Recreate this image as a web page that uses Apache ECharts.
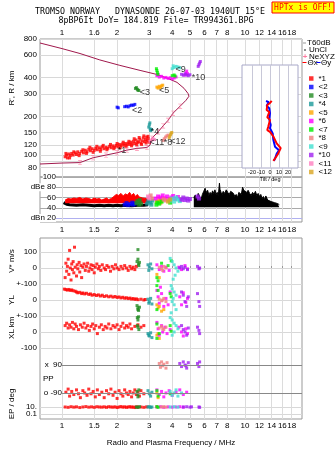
<!DOCTYPE html>
<html>
<head>
<meta charset="utf-8">
<script src="https://cdn.jsdelivr.net/npm/echarts@6/dist/echarts.min.js"></script>
<style>
html, body { margin: 0; padding: 0; background: #fff; }
#chart { width: 335px; height: 451px; }
</style>
</head>
<body>
<div id="chart"></div>
<script>
// ---- axes / ticks ----
var freqTicks = [1, 1.5, 2, 3, 4, 5, 6, 7, 8, 10, 12, 14, 16, 18];
var freqTopLabels = ['1', '1.6', '2', '3', '4', '5', '6', '7', '8', '10', '12', '14', '16', '18'];
var freqLabels = ['1', '1.5', '2', '3', '4', '5', '6', '7', '8', '10', '12', '14', '16', '18'];
var heightTicks = [80, 90, 100, 120, 150, 200, 300, 400, 600, 800];
var dbTicks = [20, 40, 60, 80, 100];
var dbLabels = ['dBn 20', '40', '60', 'dBe 80', '100'];
var tiltTicks = [-20, -10, 0, 10, 20];

var names = ['*1', '<2', '<3', '*4', '<5', '*6', '<7', '*8', '<9', '*10', '<11', '<12'];
var colors = ['#ff0000', '#0000ff', '#228b22', '#1a9a9a', '#ffa500', '#ff00ff', '#00ee00', '#f08080', '#40e0d0', '#a020f0', '#ff80c0', '#daa520'];

// ---- height panel: profile (MHz, km) ----
var profileF = [0.758, 1.0, 1.254, 1.477, 1.739, 1.998, 2.264, 2.568, 2.913, 3.03, 3.10, 3.35, 3.57, 3.80, 4.04, 4.42, 4.76, 4.94, 4.88, 4.64, 4.25, 3.79, 3.30, 2.67, 2.07, 1.61, 1.254, 1.0, 0.758];
var profileH = [85.2, 86.7, 87.4, 95.3, 100, 104.2, 109.3, 112.7, 114.5, 120, 135.4, 151.5, 168.7, 186.5, 211.6, 240, 267, 287, 302, 331, 368, 395, 424, 456, 499, 550, 617, 674, 745];
var neF = [1.254, 1.477, 1.739, 1.998, 2.264, 2.568, 2.913, 3.10, 3.35, 3.57, 3.80, 4.04, 4.42];
var neH = [87.4, 95.3, 100, 104.2, 109.3, 112.7, 114.5, 135.4, 151.5, 168.7, 186.5, 211.6, 240];

// echo traces [MHz, km]
var ht1 = [[1.04,97],[1.06,100],[1.07,95],[1.09,102],[1.11,99],[1.13,103],[1.15,100],[1.18,104],[1.2,101],[1.22,106],[1.25,103],[1.28,107],[1.31,104],[1.34,109],[1.37,106],[1.4,111],[1.43,108],[1.46,112],[1.5,109],[1.53,113],[1.56,110],[1.6,114],[1.63,111],[1.66,116],[1.7,112],[1.74,115],[1.78,113],[1.82,117],[1.86,114],[1.9,118],[1.94,115],[1.98,119],[2.02,116],[2.06,121],[2.1,118],[2.14,122],[2.18,119],[2.22,123],[2.26,120],[2.3,124],[2.34,121],[2.38,126],[2.42,122],[2.46,128],[2.5,123],[2.54,131],[2.58,125],[2.62,127],[2.66,133],[2.7,124],[2.74,129],[2.78,136],[2.82,127],[2.86,132],[2.9,138],[2.93,129],[2.96,134],[2.99,126],
    [1.05,103],[1.1,95],[1.16,106],[1.24,99],[1.3,110],[1.36,103],[1.42,115],[1.48,105],[1.55,117],[1.62,107],[1.68,119],[1.76,110],[1.84,121],[1.92,112],[2.0,123],[2.08,114],[2.16,126],[2.24,116],[2.32,128],[2.4,118],[2.48,134],[2.56,120],[2.64,137],[2.72,121],[2.8,141],[2.88,124],[2.95,140]];
var ht2 = [[2.0,236],[2.03,233],[2.2,238],[2.25,240],[2.3,237],[2.35,242],[2.4,245],[2.45,244],[2.5,248]];
var ht3 = [[2.52,330],[2.55,335],[2.58,325],[2.6,320],[2.63,318]];
var ht4 = [[2.98,165],[3.0,172],[3.02,178],[3.03,160],[3.05,155],[3.08,158]];
var ht5 = [[3.3,338],[3.35,332],[3.4,343],[3.45,335],[3.5,345],[3.55,350]];
var ht6 = [[3.3,415],[3.35,425],[3.4,405],[3.5,410],[3.6,398],[3.7,402],[3.8,395],[3.9,400],[4.0,392],[4.1,398],[4.2,405],[4.7,420],[4.75,435],[4.8,450],[4.85,430]];
var ht7 = [[3.28,470],[3.3,455],[3.32,440],[3.34,425],[4.0,415],[4.1,420],[4.15,412]];
var ht8 = [[3.57,130],[3.62,134],[3.68,138],[3.74,141],[3.8,143]];
var ht9 = [[4.0,470],[4.05,495],[4.1,480],[4.2,490],[4.3,485],[4.4,478]];
var ht10 = [[4.5,425],[4.6,418],[4.7,428],[4.8,420],[4.9,415],[5.0,422],[5.55,490],[5.6,505],[5.65,520],[5.7,535]];
var ht11 = [[3.02,128],[3.08,131],[3.14,135],[3.2,132]];
var ht12 = [[3.85,136],[3.88,140],[3.92,144],[3.95,148],[3.98,150]];

var tagNames = ['*1', '<2', '<3', '*4', '<5', '*10', '<11', '*8', '<12', '<9'];
var tagF = [2.13, 2.57, 2.84, 3.22, 3.61, 5.57, 3.3, 3.79, 4.3, 4.45];
var tagH = [109, 223, 308, 153, 319, 405, 126, 126, 128, 465];

// tilt inset (deg, km)
var tiltX = [1.9, 0, -3, -3.7, -0.8, -3, 0, -1.9, -3, 0, 3.7, 7.4, 11.9, 9.2, 5.6, 3.7];
var tiltXH = [263, 253, 244, 223, 215, 196, 187, 166, 156, 151, 139, 123, 113, 103, 94, 90];
var tiltY = [-4.4, -1.4, -3.7, -0.8, 0, 1.9, -0.8, 0.8, 0, 3, 3.7, 5.6, 10, 7.4, 5.6, 4.4];
var tiltYH = [262, 257, 240, 230, 211, 204, 189, 171, 161, 147, 131, 116, 109, 102, 94, 90];

// ---- amplitude panel (dB) ----
var dbRedF = [1.04,1.08,1.12,1.16,1.2,1.25,1.3,1.35,1.4,1.45,1.5,1.55,1.6,1.65,1.7,1.75,1.8,1.86,1.92,1.98,2.04,2.1,2.16,2.22,2.28,2.34,2.4,2.46,2.52,2.58,2.64,2.7,2.76,2.82,2.88,2.94,3.0];
var dbRedTop = [55,58,57,59,58,60,57,59,58,56,59,57,58,55,57,59,56,58,62,66,64,68,63,67,65,70,64,68,62,66,61,64,59,62,58,57,55];
var dbLow = [[1.02,50],[1.06,47],[1.1,46],[1.2,45],[1.3,46],[1.4,45],[1.5,44],[1.6,45],[1.7,44],[1.8,45],[1.9,44],[2.0,45],[2.1,44],[2.2,45],[2.4,44],[2.6,45],[2.8,45],[2.95,46]];
var dbBlack = [[5.25,60],[5.35,65],[5.45,58],[5.55,68],[5.65,62],[5.75,56],[5.85,66],[5.95,72],[6.05,78],[6.15,70],[6.25,74],[6.35,64],[6.45,70],[6.55,66],[6.65,73],[6.75,68],[6.85,75],[6.95,66],[7.05,70],[7.15,64],[7.25,88],[7.3,76],[7.4,70],[7.5,66],[7.6,72],[7.75,68],[7.9,75],[8.05,70],[8.2,66],[8.35,72],[8.5,75],[8.65,68],[8.8,62],[8.95,66],[9.1,60],[9.25,70],[9.4,72],[9.55,66],[9.7,80],[9.85,74],[10.0,76],[10.2,70],[10.4,74],[10.6,68],[10.8,64],[11.0,70],[11.2,66],[11.4,72],[11.6,64],[11.8,68],[12.0,62],[12.2,66],[12.4,58],[12.6,62],[12.8,56],[13.0,63],[13.3,55],[13.6,58],[13.9,52],[14.2,55],[14.5,50],[14.8,52],[15.1,48],[15.4,46]];
var db2 = [[2.2,46],[2.25,49],[2.3,45],[2.35,47],[2.42,50],[2.45,46],[2.5,48]];
var db3 = [[2.55,49],[2.58,53],[2.62,51],[2.66,55],[2.7,48],[2.64,46]];
var db4 = [[2.92,48],[2.96,53],[3.0,57],[3.04,50],[3.08,46],[3.12,54]];
var db5 = [[3.3,52],[3.4,56],[3.5,54],[3.6,58],[3.45,50]];
var db6 = [[3.25,58],[3.35,62],[3.45,60],[3.55,64],[3.65,58],[3.75,62],[3.85,56],[3.95,60],[4.05,63],[4.15,57],[4.3,61],[4.45,55]];
var db7 = [[3.28,46],[3.32,50],[3.4,48],[3.5,52],[3.9,50]];
var db8 = [[3.0,60],[3.05,64],[3.1,58],[3.6,56],[3.7,54]];
var db9 = [[3.9,54],[4.0,58],[4.1,52],[4.2,60],[4.3,56],[4.4,53]];
var db10 = [[4.5,56],[4.6,60],[4.7,55],[4.8,58],[4.9,54],[5.0,57],[5.5,62],[5.6,58]];
var db11 = [[2.95,62],[3.0,58]];
var db12 = [[3.8,52],[3.9,56]];

// ---- velocities (m/s) ----
var vs1 = [[1.04,-60],[1.05,30],[1.06,-20],[1.07,10],[1.08,55],[1.09,-40],[1.1,110],[1.11,0],[1.12,-75],[1.13,25],[1.14,-10],[1.15,40],[1.16,-30],[1.17,130],[1.18,5],[1.2,-50],[1.21,20],[1.22,-5],[1.24,35],[1.25,-25],[1.27,15],[1.28,-60],[1.3,5],[1.32,25],[1.34,-15],[1.36,10],[1.38,30],[1.4,-20],[1.42,0],[1.44,20],[1.46,-10],[1.48,15],[1.5,-30],[1.52,5],[1.55,25],[1.58,-5],[1.6,10],[1.63,-15],[1.66,20],[1.7,0],[1.73,-10],[1.76,15],[1.8,5],[1.84,-20],[1.88,10],[1.92,-5],[1.96,20],[2.0,0],[2.05,-10],[2.1,10],[2.15,-5],[2.2,15],[2.25,0],[2.3,-15],[2.35,10],[2.4,-5],[2.45,5],[2.5,-10],[2.55,10]];
var yl1 = [[1.03,68],[1.05,65],[1.07,62],[1.09,66],[1.11,60],[1.13,63],[1.15,58],[1.18,55],[1.2,50],[1.22,45],[1.25,48],[1.28,40],[1.3,44],[1.33,38],[1.36,42],[1.4,35],[1.43,38],[1.46,30],[1.5,34],[1.54,28],[1.58,32],[1.62,25],[1.66,30],[1.7,22],[1.75,26],[1.8,20],[1.85,24],[1.9,18],[1.95,22],[2.0,16],[2.05,19],[2.1,13],[2.15,17],[2.2,11],[2.25,14],[2.3,9],[2.35,12],[2.4,6],[2.45,9],[2.5,4],[2.55,7],[2.6,2],[2.7,5],[2.8,0],[2.85,3]];
var xl1 = [[1.04,40],[1.06,55],[1.08,25],[1.1,45],[1.12,30],[1.14,60],[1.16,20],[1.18,50],[1.2,35],[1.23,15],[1.26,45],[1.29,30],[1.32,55],[1.35,25],[1.38,40],[1.41,10],[1.44,35],[1.47,50],[1.5,20],[1.53,40],[1.56,-10],[1.6,30],[1.64,45],[1.68,15],[1.72,35],[1.76,25],[1.8,50],[1.85,20],[1.9,40],[1.95,30],[2.0,45],[2.05,15],[2.1,35],[2.15,55],[2.2,25],[2.25,40],[2.3,30],[2.35,50],[2.4,20],[2.5,35],[2.6,45],[2.7,30],[2.8,40]];
var vs3 = [[2.57,40],[2.6,55],[2.62,25],[2.65,35],[2.6,115],[2.63,15]];
var yl3 = [[2.57,-35],[2.6,-50],[2.62,-65],[2.65,-45],[2.6,-60]];
var xl3 = [[2.58,90],[2.6,75],[2.62,95],[2.6,30],[2.63,15],[2.58,40]];
var vs4 = [[2.95,20],[3.0,5],[3.05,25],[3.1,-5],[2.98,-15]];
var yl4 = [[2.95,5],[3.0,-10],[3.05,10],[3.1,-25],[2.98,-20]];
var xl4 = [[2.95,-10],[3.0,-25],[3.05,-5],[3.1,-35],[2.98,-20]];
var vs5 = [[3.3,-40],[3.4,-60]];
var yl5 = [[3.3,-30],[3.35,-50],[3.4,-40],[3.5,-70],[3.6,-60]];
var xl5 = [[3.3,-20],[3.4,-40],[3.35,-10]];
var vs6 = [[3.3,20],[3.4,-10],[3.5,10],[3.6,-20],[3.7,5],[3.85,-15],[4.35,5],[4.5,-10],[4.7,15],[4.85,-5]];
var yl6 = [[3.3,60],[3.35,20],[3.4,-20],[3.5,40],[3.6,-40],[3.7,10],[3.8,-30],[3.9,50],[4.4,20],[4.5,-30],[4.6,45],[4.75,-15],[4.85,10],[3.45,80]];
var xl6 = [[3.3,60],[3.35,20],[3.4,-20],[3.5,40],[3.55,0],[3.65,30],[3.75,-10],[3.9,15],[4.35,30],[4.5,0],[4.6,-25],[4.75,20],[4.85,-10]];
var vs7 = [[3.3,-60],[3.35,-80],[3.5,30],[3.8,15],[3.95,45]];
var yl7 = [[3.3,90],[3.35,60],[3.9,40],[3.95,20],[3.3,-60]];
var xl7 = [[3.3,50],[3.4,-10],[3.9,40],[3.95,5],[3.3,-40]];
var vs8 = [[3.4,5],[3.5,-5],[3.6,10],[3.7,0],[3.55,-15]];
var yl8 = [[3.4,5],[3.5,-5],[3.6,10],[3.7,-10],[3.55,0]];
var xl8 = [[3.4,25],[3.5,35],[3.6,15],[3.7,30],[3.55,20]];
var vs9 = [[3.9,60],[4.0,40],[4.1,20],[4.2,0],[4.3,-20],[4.15,-45],[4.05,-70]];
var yl9 = [[3.95,90],[4.0,70],[4.1,50],[4.2,30],[4.05,10],[4.0,-10],[4.1,-30],[4.2,-60],[3.95,-80]];
var xl9 = [[3.9,90],[4.0,75],[4.1,55],[4.2,40],[4.3,20],[4.1,0],[4.0,-20]];
var vs10 = [[4.4,0],[4.5,10],[4.6,-5],[4.7,5],[4.85,-10],[5.5,10],[5.6,-5],[5.65,0]];
var yl10 = [[4.5,50],[4.6,30],[4.7,-10],[4.8,-40],[4.9,20],[5.5,40],[5.6,-10],[5.65,-40]];
var xl10 = [[4.5,40],[4.6,15],[4.7,0],[4.8,-20],[4.9,25],[5.5,30],[5.6,10],[5.65,-10]];

// ---- polarization (deg) ----
var pp1 = [[1.05,-85],[1.08,-65],[1.1,-110],[1.13,-80],[1.16,-100],[1.2,-70],[1.23,-95],[1.26,-120],[1.3,-75],[1.33,-90],[1.37,-105],[1.4,-65],[1.44,-95],[1.48,-80],[1.52,-115],[1.56,-70],[1.6,-100],[1.65,-85],[1.7,-120],[1.75,-75],[1.8,-95],[1.85,-65],[1.9,-105],[1.95,-85],[2.0,-125],[2.05,-75],[2.1,-95],[2.15,-110],[2.2,-70],[2.25,-90],[2.3,-100],[2.35,-80],[2.4,-115],[2.45,-90],[2.5,-70],[2.55,-100],[2.6,-85],[2.65,-110],[2.7,-75],[2.8,-95]];
var pp3 = [[2.57,-80],[2.6,-100],[2.63,-70],[2.6,-115]];
var pp4 = [[2.95,-75],[3.0,-95],[3.05,-110],[3.1,-85]];
var pp5 = [[3.3,-90],[3.35,-120]];
var pp6 = [[3.3,-70],[3.4,-100],[3.5,-80],[3.6,-115],[3.7,-90],[3.85,-75],[4.0,-105],[4.2,-85],[4.4,-70],[4.6,-100],[4.8,-85]];
var pp7 = [[3.3,-75],[3.35,-110],[3.9,-95]];
var pp8 = [[3.4,100],[3.45,75],[3.5,110],[3.55,85],[3.6,95],[3.7,70],[3.75,105]];
var pp9 = [[3.9,-80],[4.0,-105],[4.1,-90],[4.2,-70],[4.3,-110],[4.5,-90]];
var pp10 = [[4.4,100],[4.5,80],[4.6,110],[4.7,90],[4.8,70],[4.9,105],[4.75,85],[5.5,100],[5.6,80],[5.65,110]];

// ---- elevation (deg) ----
var ep1 = [[1.04,10],[1.08,8],[1.12,12],[1.16,9],[1.2,11],[1.25,7],[1.3,10],[1.35,13],[1.4,9],[1.45,11],[1.5,8],[1.55,12],[1.6,10],[1.65,9],[1.7,11],[1.75,8],[1.8,12],[1.85,10],[1.9,9],[1.95,11],[2.0,7],[2.05,10],[2.1,13],[2.15,9],[2.2,11],[2.25,8],[2.3,10],[2.35,12],[2.4,9],[2.45,10],[2.5,7],[2.55,11],[2.6,9],[2.7,10],[2.8,8],[2.9,11]];
var ep3 = [[2.55,10],[2.6,8],[2.65,12]];
var ep4 = [[2.95,10],[3.0,12],[3.05,8],[3.1,10]];
var ep5 = [[3.3,11]];
var ep6 = [[3.3,10],[3.45,12],[3.6,8],[3.8,11],[4.0,9],[4.2,10],[4.4,12],[4.6,9]];
var ep7 = [[3.3,13],[3.35,8]];
var ep8 = [[3.5,10],[3.6,12],[3.7,9]];
var ep9 = [[3.9,10],[4.1,12],[4.3,9]];
var ep10 = [[4.6,10],[4.8,12],[5.0,9],[5.1,11],[5.6,10],[5.65,8]];

var FMIN = 0.758, FMAX = 20.49;
var LBL = { fontFamily: 'Liberation Sans', fontSize: 8, color: '#000', hideOverlap: false, showMinLabel: true, showMaxLabel: true };

var lookup = function(ticks, labels) {
    return function(v) {
        for (var i = 0; i < ticks.length; i++) {
            if (Math.abs(v - ticks[i]) < 1e-6 * Math.max(1, Math.abs(ticks[i]))) return labels[i];
        }
        return '';
    };
};
var zip = function(a, b) { return a.map(function(v, i) { return [v, b[i]]; }); };

var grid = [
    { left: 40, top: 39, width: 262, height: 138, show: true, borderColor: '#999' },   // 0 height
    { left: 40, top: 177, width: 262, height: 45, show: true, borderColor: '#999' },   // 1 dBe
    { left: 40, top: 238, width: 262, height: 181, show: true, borderColor: '#999' },  // 2 frame
    { left: 40, top: 238, width: 262, height: 46 },                                    // 3 V*
    { left: 40, top: 284, width: 262, height: 32 },                                    // 4 YL
    { left: 40, top: 316, width: 262, height: 40 },                                    // 5 XL
    { left: 40, top: 356, width: 262, height: 46 },                                    // 6 PP
    { left: 40, top: 402, width: 262, height: 17 },                                    // 7 EP
    { left: 242, top: 65, width: 56, height: 103, show: true, borderColor: '#a8a8c8', backgroundColor: '#fff', z: 10 } // 8 tilt
];

var fx = function(gi, extra) {
    var ax = {
        type: 'log', logBase: 10, gridIndex: gi, min: FMIN, max: FMAX,
        axisLine: { show: false },
        axisTick: { show: false, customValues: freqTicks },
        axisLabel: { show: false, customValues: freqTicks },
        splitLine: { show: true, lineStyle: { color: '#dcdcdc', width: 1 } }
    };
    return Object.assign(ax, extra || {});
};

var xAxis = [
    fx(0, { position: 'top', axisLabel: Object.assign({ show: true, customValues: freqTicks, margin: 2, formatter: lookup(freqTicks, freqTopLabels) }, LBL) }),
    fx(1),
    { gridIndex: 2, type: 'value', show: false },
    fx(3, { position: 'top',
        axisTick: { show: true, customValues: freqTicks, length: 2, lineStyle: { color: '#999' } },
        axisLabel: Object.assign({ show: true, customValues: freqTicks, margin: 4, formatter: lookup(freqTicks, freqLabels) }, LBL) }),
    fx(4),
    fx(5),
    fx(6),
    fx(7, { position: 'bottom',
        axisLabel: Object.assign({ show: true, customValues: freqTicks, margin: 3, formatter: lookup(freqTicks, freqLabels) }, LBL),
        name: 'Radio and Plasma Frequency / MHz', nameLocation: 'middle', nameGap: 20,
        nameTextStyle: { fontFamily: 'Liberation Sans', fontSize: 8, color: '#000' } }),
    { gridIndex: 8, type: 'value', min: -31.1, max: 31.1, z: 11,
      axisLine: { show: false },
      axisTick: { show: false, customValues: tiltTicks },
      axisLabel: { customValues: tiltTicks, margin: 1, fontSize: 5.5, fontFamily: 'Liberation Sans', color: '#000', hideOverlap: false },
      splitLine: { show: true, lineStyle: { color: '#c8c8d8' } },
      name: 'Tilt / deg', nameLocation: 'middle', nameGap: 8,
      nameTextStyle: { fontSize: 5.5, fontFamily: 'Liberation Sans', color: '#000' } }
];

var fy = function(gi, type, min, max, ticks, labels, extra) {
    var ax = {
        type: type, gridIndex: gi, min: min, max: max, position: 'left', offset: 0,
        axisLine: { show: false },
        axisTick: { show: false, customValues: ticks },
        axisLabel: Object.assign({ customValues: ticks, margin: 3, formatter: lookup(ticks, labels) }, LBL),
        splitLine: { show: true, lineStyle: { color: '#d8d8d8' } }
    };
    return Object.assign(ax, extra || {});
};

var yAxis = [
    fy(0, 'log', 67.5, 800.5, heightTicks, heightTicks.map(String)),
    fy(1, 'value', 12.2, 100, dbTicks, dbLabels, {
        axisLabel: Object.assign({ customValues: dbTicks, inside: true, align: 'right', margin: 16,
            backgroundColor: '#fff', formatter: lookup(dbTicks, dbLabels) }, LBL),
        splitLine: { show: true, lineStyle: { color: ['#b0b0f0', '#aaa', '#aaa', '#aaa', '#aaa'] } } }),
    { gridIndex: 2, type: 'value', show: false },
    fy(3, 'value', -100, 187.5, [0, 100], ['0', '100']),
    fy(4, 'value', -100, 100, [0, 100], ['0', '+-100']),
    fy(5, 'value', -150, 100, [-100, 0, 100], ['-100', '0', '+-100']),
    fy(6, 'value', -148, 148, [-90, 90], ['o -90', 'x  90'], {
        axisLabel: Object.assign({ customValues: [-90, 90], inside: true, align: 'right', margin: 22,
            formatter: lookup([-90, 90], ['o -90', 'x  90']) }, LBL),
        splitLine: { show: false } }),
    fy(7, 'log', 0.00373, 268, [10], ['10.']),
    { gridIndex: 8, type: 'log', min: 79.3, max: 498, show: false },
    // second EP axis carrying only the 0.1 tick (kept apart so the two close labels both show)
    fy(7, 'log', 0.00373, 268, [0.1], ['0.1'])
];

var series = [];
var addPts = function(sets, gi, size) {
    sets.forEach(function(d, i) {
        if (!d || !d.length) return;
        series.push({
            name: names[i], type: 'scatter', xAxisIndex: gi, yAxisIndex: gi,
            data: d, symbol: 'rect', symbolSize: size, silent: true,
            itemStyle: { color: colors[i] }, z: 3
        });
    });
};

addPts([ht1, ht2, ht3, ht4, ht5, ht6, ht7, ht8, ht9, ht10, ht11, ht12], 0, 3);

series.push({
    name: 'profile', type: 'line', xAxisIndex: 0, yAxisIndex: 0, data: zip(profileF, profileH),
    symbol: 'none', silent: true, lineStyle: { color: '#a0184c', width: 1 }, z: 2
});
series.push({
    name: 'NeXYZ', type: 'scatter', xAxisIndex: 0, yAxisIndex: 0, data: zip(neF, neH),
    symbol: 'path://M0,0L6,0L6,1L3.5,1L3.5,7L6,7L6,8L0,8L0,7L2.5,7L2.5,1L0,1Z', symbolSize: [4, 5],
    itemStyle: { color: '#ff7aa0' }, silent: true, z: 3
});
series.push({
    name: 'tags', type: 'scatter', xAxisIndex: 0, yAxisIndex: 0, silent: true, z: 6,
    data: tagNames.map(function(n, i) { return { name: n, value: [tagF[i], tagH[i]] }; }),
    symbolSize: 0.1, itemStyle: { color: 'rgba(0,0,0,0)' },
    label: { show: true, position: 'inside', formatter: '{b}', fontFamily: 'Liberation Sans', fontSize: 9, color: '#000' }
});

// tilt inset
series.push({
    name: 'Θy', type: 'line', xAxisIndex: 8, yAxisIndex: 8, data: zip(tiltY, tiltYH),
    symbol: 'none', silent: true, lineStyle: { color: '#0000ff', width: 2 }, z: 12
});
series.push({
    name: 'Θx', type: 'line', xAxisIndex: 8, yAxisIndex: 8, data: zip(tiltX, tiltXH),
    symbol: 'none', silent: true, lineStyle: { color: '#ff0000', width: 2 }, z: 13
});

// amplitude
series.push({
    name: '*1', type: 'line', xAxisIndex: 1, yAxisIndex: 1, data: zip(dbRedF, dbRedTop),
    symbol: 'none', silent: true, lineStyle: { color: '#ff0000', width: 1 },
    areaStyle: { color: '#ff0000', opacity: 1, origin: 49 }, z: 3
});
series.push({
    name: 'UnCl', type: 'line', xAxisIndex: 1, yAxisIndex: 1, data: dbLow,
    symbol: 'none', silent: true, lineStyle: { color: '#000', width: 3 }, z: 2
});
series.push({
    name: 'UnCl', type: 'line', xAxisIndex: 1, yAxisIndex: 1, data: dbBlack,
    symbol: 'none', silent: true, lineStyle: { color: '#000', width: 1 },
    areaStyle: { color: '#000', opacity: 1, origin: 41 }, z: 2
});
addPts([[], db2, db3, db4, db5, db6, db7, db8, db9, db10, db11, db12], 1, 4);

// velocities, polarization, elevation
addPts([vs1, [], vs3, vs4, vs5, vs6, vs7, vs8, vs9, vs10], 3, 3);
addPts([yl1, [], yl3, yl4, yl5, yl6, yl7, yl8, yl9, yl10], 4, 3);
addPts([xl1, [], xl3, xl4, xl5, xl6, xl7, xl8, xl9, xl10], 5, 3);
addPts([pp1, [], pp3, pp4, pp5, pp6, pp7, pp8, pp9, pp10], 6, 3);
addPts([ep1, [], ep3, ep4, ep5, ep6, ep7, ep8, ep9, ep10], 7, 3);

series.push({
    name: 'pp-lines', type: 'line', xAxisIndex: 6, yAxisIndex: 6, data: [], silent: true,
    markLine: {
        silent: true, symbol: 'none', label: { show: false },
        lineStyle: { color: '#888', type: 'solid', width: 1 },
        data: [
            [{ coord: [1, 90] }, { coord: [FMAX, 90] }],
            [{ coord: [1, -90] }, { coord: [FMAX, -90] }]
        ]
    }
});

var txt = function(x, y, s, font, extra) {
    return Object.assign({ type: 'text', x: x, y: y, silent: true,
        style: { text: s, font: font, fill: '#000', align: 'left', verticalAlign: 'middle' } }, extra || {});
};
var rot = function(x, y, s) {
    return { type: 'text', x: x, y: y, rotation: Math.PI / 2, silent: true,
        style: { text: s, font: '8px Liberation Sans', fill: '#000', align: 'center', verticalAlign: 'middle' } };
};

var graphic = [
    { type: 'text', x: 150, y: 12, silent: true, style: { text: 'TROMSO NORWAY   DYNASONDE 26-07-03 1940UT 15°E', font: '8.3px DejaVu Sans Mono', fill: '#000', align: 'center', verticalAlign: 'middle' } },
    { type: 'text', x: 156, y: 20.5, silent: true, style: { text: '8pBP6It DoY= 184.819 File= TR994361.BPG', font: '8.3px DejaVu Sans Mono', fill: '#000', align: 'center', verticalAlign: 'middle' } },
    { type: 'rect', shape: { x: 272, y: 2, width: 62, height: 11 }, silent: true, style: { fill: '#ffff00', stroke: '#ff0000', lineWidth: 1 } },
    { type: 'text', x: 303, y: 8, silent: true, style: { text: 'HPTx is OFF!', font: '8px DejaVu Sans Mono', fill: '#ff0000', align: 'center', verticalAlign: 'middle' } },
    // side key
    { type: 'line', shape: { x1: 303, y1: 43, x2: 306, y2: 43 }, silent: true, style: { stroke: '#999', lineWidth: 1 } },
    txt(307, 43, 'T60dB', '8px Liberation Sans'),
    { type: 'circle', shape: { cx: 305, cy: 50, r: 0.8 }, silent: true, style: { fill: '#000' } },
    txt(309, 50, 'UnCl', '8px Liberation Sans'),
    { type: 'text', x: 305, y: 56.5, silent: true, style: { text: '+', font: 'bold 8px Liberation Sans', fill: '#ff7aa0', align: 'center', verticalAlign: 'middle' } },
    txt(309, 56.5, 'NeXYZ', '8px Liberation Sans'),
    { type: 'line', shape: { x1: 302.5, y1: 62.5, x2: 306.5, y2: 62.5 }, silent: true, style: { stroke: '#ff0000', lineWidth: 1 } },
    txt(307.5, 62.5, 'Θx', '8px Liberation Sans'),
    { type: 'line', shape: { x1: 316.5, y1: 62.5, x2: 320.5, y2: 62.5 }, silent: true, style: { stroke: '#0000ff', lineWidth: 1 } },
    txt(321, 62.5, 'Θy', '8px Liberation Sans'),
    // axis titles
    rot(12, 88, "R', R / km"),
    rot(12, 261, 'V* m/s'),
    rot(12, 300, 'YL'),
    rot(12, 322, 'km'),
    rot(12, 334, 'XL'),
    rot(12, 404, 'EP / deg'),
    txt(43, 379, 'PP', '8px Liberation Sans')
];

var option = {
    animation: false,
    backgroundColor: '#fff',
    textStyle: { fontFamily: 'Liberation Sans' },
    grid: grid,
    xAxis: xAxis,
    yAxis: yAxis,
    legend: {
        data: names, orient: 'vertical', left: 304, top: 69.5,
        icon: 'rect', itemWidth: 4.5, itemHeight: 4.5, itemGap: 0.5,
        selectedMode: false,
        textStyle: { fontFamily: 'Liberation Sans', fontSize: 8, lineHeight: 7, color: '#000', padding: 0 }
    },
    graphic: graphic,
    series: series
};

var chart = echarts.init(document.getElementById('chart'), null, { renderer: 'canvas' });
chart.setOption(option);
</script>
</body>
</html>
